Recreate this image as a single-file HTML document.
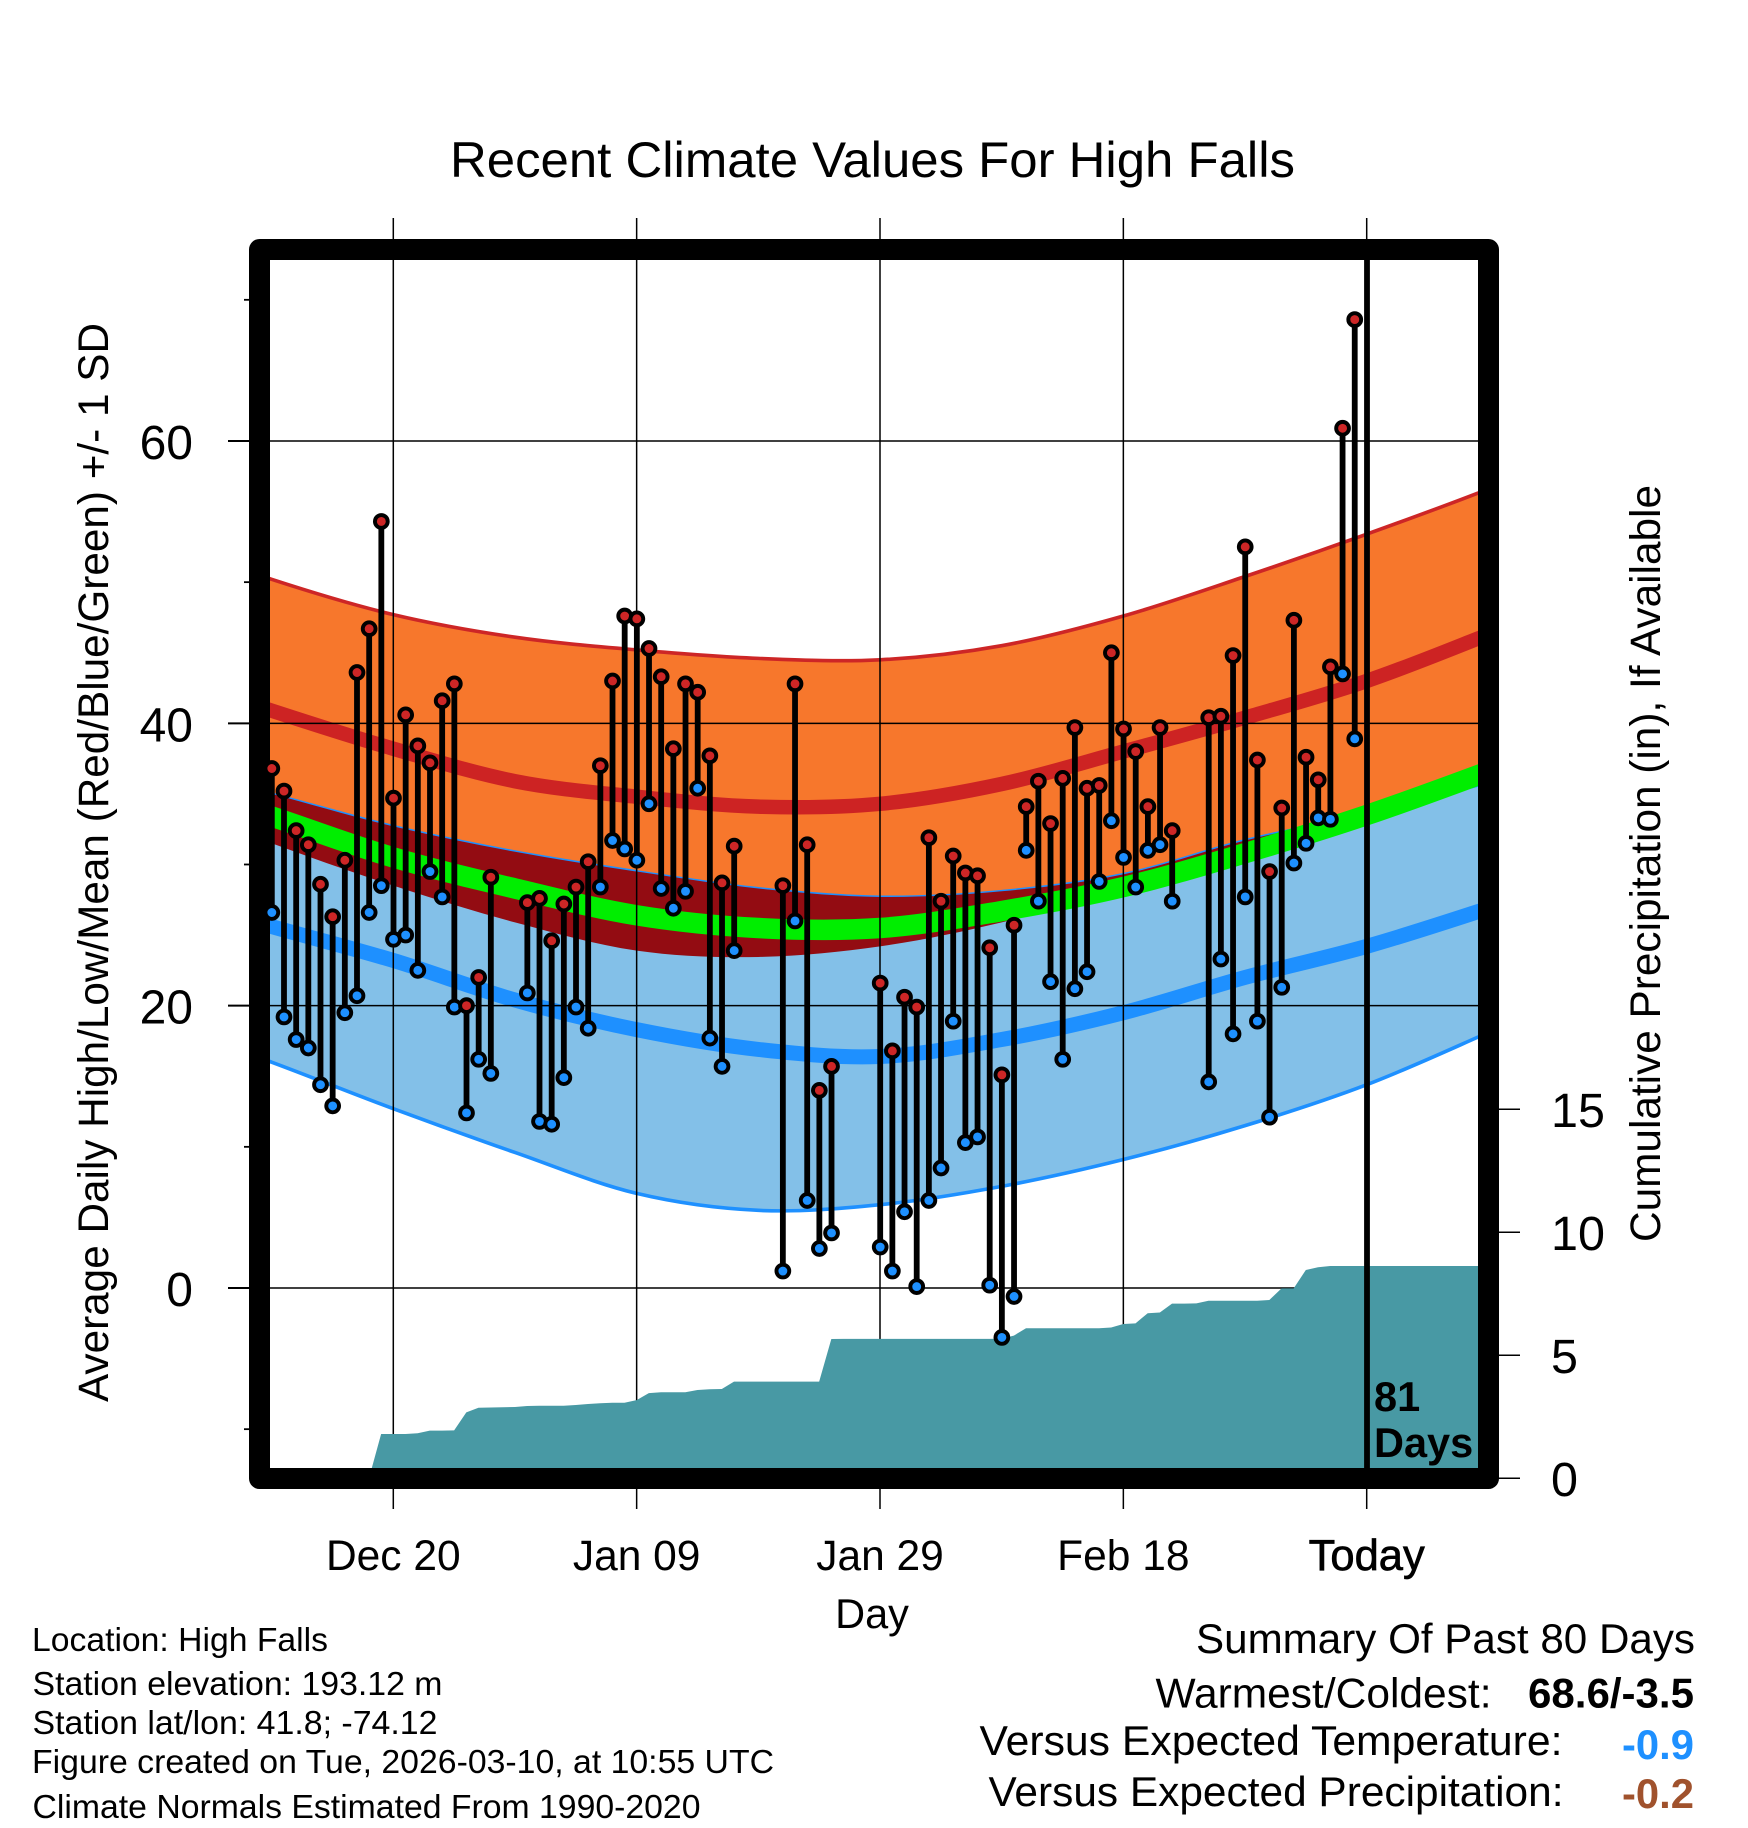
<!DOCTYPE html>
<html lang="en">
<head>
<meta charset="utf-8">
<title>Recent Climate Values For High Falls</title>
<style>
html,body{margin:0;padding:0;background:#fff;}
svg{display:block;}
text{font-family:"Liberation Sans",Arial,sans-serif;fill:#000;}
</style>
</head>
<body>
<svg id="chart" xmlns="http://www.w3.org/2000/svg" width="1748" height="1828" viewBox="0 0 1748 1828">
  <defs>
    <clipPath id="plot-clip"><rect x="270" y="260" width="1208" height="1208"/></clipPath>
    <clipPath id="orange-clip"><path id="orange-clip-path" d=""/></clipPath>
  </defs>
  <rect x="0" y="0" width="1748" height="1828" fill="#ffffff"/>
  <text x="872.5" y="177" font-size="50.5" text-anchor="middle" textLength="845" lengthAdjust="spacingAndGlyphs">Recent Climate Values For High Falls</text>
  <g id="plot" clip-path="url(#plot-clip)"></g>
  <g id="outside-grid"></g>
  <rect x="259.5" y="249.5" width="1229" height="1229" fill="none" stroke="#000" stroke-width="21" stroke-linejoin="round"/>
  <g id="today"></g>
  <g id="marks"></g>
  <g id="tick-labels"></g>
  <text x="1374" y="1411" font-size="41.5" font-weight="bold">81</text>
  <text x="1374" y="1457" font-size="41.5" font-weight="bold">Days</text>
  <text transform="translate(108,862.5) rotate(-90)" font-size="43" text-anchor="middle" textLength="1079" lengthAdjust="spacingAndGlyphs">Average Daily High/Low/Mean (Red/Blue/Green) +/- 1 SD</text>
  <text transform="translate(1660,863.5) rotate(-90)" font-size="43" text-anchor="middle" textLength="757" lengthAdjust="spacingAndGlyphs">Cumulative Precipitation (in), If Available</text>
  <text x="872" y="1628" font-size="41.5" text-anchor="middle">Day</text>
  <g font-size="33.5">
    <text x="32" y="1651" textLength="296" lengthAdjust="spacingAndGlyphs">Location: High Falls</text>
    <text x="32.5" y="1695" textLength="410" lengthAdjust="spacingAndGlyphs">Station elevation: 193.12 m</text>
    <text x="32.5" y="1734" textLength="405" lengthAdjust="spacingAndGlyphs">Station lat/lon: 41.8; -74.12</text>
    <text x="32" y="1773" textLength="742" lengthAdjust="spacingAndGlyphs">Figure created on Tue, 2026-03-10, at 10:55 UTC</text>
    <text x="32.5" y="1818" textLength="668" lengthAdjust="spacingAndGlyphs">Climate Normals Estimated From 1990-2020</text>
  </g>
  <g font-size="42">
    <text x="1196" y="1653" textLength="499" lengthAdjust="spacingAndGlyphs">Summary Of Past 80 Days</text>
    <text x="1155.5" y="1707.5" textLength="336" lengthAdjust="spacingAndGlyphs">Warmest/Coldest:</text>
    <text x="1528" y="1707.5" font-weight="bold" textLength="166" lengthAdjust="spacingAndGlyphs">68.6/-3.5</text>
    <text x="979.5" y="1755" textLength="583" lengthAdjust="spacingAndGlyphs">Versus Expected Temperature:</text>
    <text x="1622" y="1759" font-weight="bold" style="fill:#1e90ff" textLength="72" lengthAdjust="spacingAndGlyphs">-0.9</text>
    <text x="988.5" y="1806" textLength="575" lengthAdjust="spacingAndGlyphs">Versus Expected Precipitation:</text>
    <text x="1622" y="1808" font-weight="bold" style="fill:#a0522d" textLength="72" lengthAdjust="spacingAndGlyphs">-0.2</text>
  </g>
</svg>
<script>
// ---- chart data ----
const highs = [36.8,35.2,32.4,31.4,28.6,26.3,30.3,43.6,46.7,54.3,
  34.7,40.6,38.4,37.2,41.6,42.8,20.0,22.0,29.1,null,
  null,27.3,27.6,24.6,27.2,28.4,30.2,37.0,43.0,47.6,
  47.4,45.3,43.3,38.2,42.8,42.2,37.7,28.7,31.3,null,
  null,null,28.5,42.8,31.4,14.0,15.7,null,null,null,
  21.6,16.8,20.6,19.9,31.9,27.4,30.6,29.4,29.2,24.1,
  15.1,25.7,34.1,35.9,32.9,36.1,39.7,35.4,35.6,45.0,
  39.6,38.0,34.1,39.7,32.4,null,null,40.4,40.5,44.8,
  52.5,37.4,29.5,34.0,47.3,37.6,36.0,44.0,60.9,68.6];
const lows = [26.6,19.2,17.6,17.0,14.4,12.9,19.5,20.7,26.6,28.5,
  24.7,25.0,22.5,29.5,27.7,19.9,12.4,16.2,15.2,null,
  null,20.9,11.8,11.6,14.9,19.9,18.4,28.4,31.7,31.1,
  30.3,34.3,28.3,26.9,28.1,35.4,17.7,15.7,23.9,null,
  null,null,1.2,26.0,6.2,2.8,3.9,null,null,null,
  2.9,1.2,5.4,0.1,6.2,8.5,18.9,10.3,10.7,0.2,
  -3.5,-0.6,31.0,27.4,21.7,16.2,21.2,22.4,28.8,33.1,
  30.5,28.4,31.0,31.4,27.4,null,null,14.6,23.3,18.0,
  27.7,18.9,12.1,21.3,30.1,31.5,33.3,33.2,43.5,38.9];
const normalDays = [-10,0,10,20,30,40,50,60,70,80,90,100,110];
const highPlusSd  = [53.3,50.2,47.7,46.1,45.2,44.6,44.5,45.5,47.6,50.4,53.4,56.6,60.2];
const highNormal  = [43.8,40.9,38.2,35.9,34.8,34.1,34.3,35.7,38.0,40.4,43.0,46.3,49.8];
const highMinusSd = [34.8,31.5,28.5,25.9,23.9,23.45,24.2,25.9,28.3,30.9,33.5,36.6,39.9];
const lowPlusSd   = [37.2,35.0,32.7,30.9,29.5,28.3,27.7,28.1,29.3,31.7,33.6,35.8,38.2];
const lowNormal   = [28.1,25.6,23.2,20.4,18.3,16.9,16.4,17.6,19.5,22.0,24.2,26.9,29.8];
const lowMinusSd  = [19.1,16.0,12.7,9.6,6.7,5.5,5.9,7.2,9.1,11.5,14.4,18.1,22.0];
const meanNormal  = [36.2,33.4,30.5,28.3,26.4,25.5,25.5,26.7,28.4,30.8,33.5,36.6,39.9];
const precip = [0,0,0,0,0,0,0,0,0,1.80,
  1.80,1.80,1.83,1.94,1.94,1.95,2.68,2.87,2.88,2.89,
  2.90,2.94,2.95,2.95,2.95,2.98,3.02,3.05,3.07,3.07,
  3.18,3.46,3.50,3.50,3.50,3.59,3.62,3.63,3.93,3.93,
  3.93,3.93,3.93,3.93,3.93,3.93,5.66,5.67,5.67,5.67,
  5.67,5.67,5.67,5.67,5.67,5.67,5.67,5.67,5.67,5.67,
  5.68,5.80,6.10,6.10,6.10,6.10,6.10,6.10,6.10,6.13,
  6.27,6.30,6.71,6.74,7.10,7.10,7.11,7.22,7.22,7.22,
  7.22,7.22,7.25,7.72,7.72,8.47,8.58,8.63,8.63,8.63,
  8.63,8.63,8.63,8.63,8.63,8.63,8.63,8.63,8.63,8.63,8.63];
const xTickDays = [10,30,50,70,90];
const xTickLabels = ["Dec 20","Jan 09","Jan 29","Feb 18","Today"];
const yMajorTicks = [0,20,40,60];
const yMinorTicks = [-10,10,30,50,70];
const precipTicks = [0,5,10,15];
const todayDay = 90;

// ---- axis functions ----
function xAxis(d){ return 393.3 + (d - 10) * 12.1675; }
function yAxis(v){ return 1288 - 14.117 * v; }
function precipAxis(v){ return 1478.3 - 24.6 * v; }

const NS = 'http://www.w3.org/2000/svg';
function mk(tag, parent, props){
  const el = document.createElementNS(NS, tag);
  for (const k in props) el.setAttribute(k, props[k]);
  parent.appendChild(el);
  return el;
}
function curveSegs(pts){
  let d = '';
  for (let i = 0; i < pts.length - 1; i++){
    const p0 = pts[Math.max(i-1,0)], p1 = pts[i], p2 = pts[i+1], p3 = pts[Math.min(i+2,pts.length-1)];
    const c1x = p1[0] + (p2[0]-p0[0])/6, c1y = p1[1] + (p2[1]-p0[1])/6;
    const c2x = p2[0] - (p3[0]-p1[0])/6, c2y = p2[1] - (p3[1]-p1[1])/6;
    d += 'C' + c1x.toFixed(2) + ' ' + c1y.toFixed(2) + ' ' + c2x.toFixed(2) + ' ' + c2y.toFixed(2) + ' ' + p2[0].toFixed(2) + ' ' + p2[1].toFixed(2);
  }
  return d;
}
function pts(values){ return values.map(function(v,i){ return [xAxis(normalDays[i]), yAxis(v)]; }); }
function linePath(values){
  const p = pts(values);
  return 'M' + p[0][0].toFixed(2) + ' ' + p[0][1].toFixed(2) + curveSegs(p);
}
function bandPath(upper, lower){
  const a = pts(upper), b = pts(lower).reverse();
  return 'M' + a[0][0].toFixed(2) + ' ' + a[0][1].toFixed(2) + curveSegs(a) +
         'L' + b[0][0].toFixed(2) + ' ' + b[0][1].toFixed(2) + curveSegs(b) + 'Z';
}

const plot = document.getElementById('plot');
const outside = document.getElementById('outside-grid');
const todayG = document.getElementById('today');
const marks = document.getElementById('marks');
const labels = document.getElementById('tick-labels');

// bands
const orangeD = bandPath(highPlusSd, highMinusSd);
document.getElementById('orange-clip-path').setAttribute('d', orangeD);
const orange = mk('path', plot, {d: orangeD, fill: '#f7772c'});


const skyBand = mk('path', plot, {d: bandPath(lowPlusSd, lowMinusSd), fill: '#83c0e8'});


const lowUpperLine = mk('path', plot, {d: linePath(lowPlusSd), fill: 'none', stroke: '#1e90ff', 'stroke-width': 3});


const overlap = mk('path', plot, {d: bandPath(lowPlusSd, lowMinusSd), fill: '#930c12', 'clip-path': 'url(#orange-clip)'});


const upperLine = mk('path', plot, {d: linePath(highPlusSd), fill: 'none', stroke: '#cd2626', 'stroke-width': 3.6});


const lowerLine = mk('path', plot, {d: linePath(lowMinusSd), fill: 'none', stroke: '#1e90ff', 'stroke-width': 3.6});


const highLine = mk('path', plot, {d: linePath(highNormal), fill: 'none', stroke: '#cd2323', 'stroke-width': 14.5});


const lowLine = mk('path', plot, {d: linePath(lowNormal), fill: 'none', stroke: '#1e90ff', 'stroke-width': 15});


const meanLine = mk('path', plot, {d: linePath(meanNormal), fill: 'none', stroke: '#00ee00', 'stroke-width': 20.5});



// grid inside the plot
yMajorTicks.forEach(function(v){
  const g = mk('line', plot, {x1: 270, x2: 1478, y1: yAxis(v), y2: yAxis(v), stroke: '#000', 'stroke-width': 1.5});
  
  
});
xTickDays.forEach(function(d){
  const g = mk('line', plot, {x1: xAxis(d), x2: xAxis(d), y1: 260, y2: 1468, stroke: '#000', 'stroke-width': 1.5});
  
  
});

// cumulative precipitation
let precipD = 'M' + xAxis(0).toFixed(2) + ' ' + precipAxis(0).toFixed(2);
precip.forEach(function(v,i){ precipD += 'L' + xAxis(i).toFixed(2) + ' ' + precipAxis(v).toFixed(2); });
precipD += 'L' + xAxis(precip.length-1).toFixed(2) + ' ' + precipAxis(0).toFixed(2) + 'Z';
const precipArea = mk('path', plot, {d: precipD, fill: '#4899a4'});



// outer ticks
xTickDays.forEach(function(d,i){
  const t1 = mk('line', outside, {x1: xAxis(d), x2: xAxis(d), y1: 218, y2: 240, stroke: '#000', 'stroke-width': 1.5});
  
  
  const t2 = mk('line', outside, {x1: xAxis(d), x2: xAxis(d), y1: 1488, y2: 1509, stroke: '#000', 'stroke-width': 1.5});
  
  
  const isToday = d === todayDay;
  const lab = mk('text', labels, {x: xAxis(d), y: 1570, 'font-size': isToday ? 43.5 : 42.5, 'text-anchor': 'middle'});
  
  
  if (isToday) { lab.setAttribute('stroke', '#000'); lab.setAttribute('stroke-width', '0.7'); }
  lab.textContent = xTickLabels[i];
});
yMajorTicks.forEach(function(v){
  const t = mk('line', outside, {x1: 228, x2: 250, y1: yAxis(v), y2: yAxis(v), stroke: '#000', 'stroke-width': 2});
  
  
  const lab = mk('text', labels, {x: 193, y: yAxis(v) + 18, 'font-size': 48, 'text-anchor': 'end'});
  
  
  lab.textContent = String(v);
});
yMinorTicks.forEach(function(v){
  const t = mk('line', outside, {x1: 244, x2: 250, y1: yAxis(v), y2: yAxis(v), stroke: '#000', 'stroke-width': 1.8});
  
  
});
precipTicks.forEach(function(v){
  const t = mk('line', outside, {x1: 1498, x2: 1520, y1: precipAxis(v), y2: precipAxis(v), stroke: '#000', 'stroke-width': 1.5});
  
  
  const lab = mk('text', labels, {x: 1551, y: precipAxis(v) + 17.5, 'font-size': 48.5});
  
  
  lab.textContent = String(v);
});

// today marker
const todayLine = mk('line', todayG, {x1: xAxis(todayDay) + 0.3, x2: xAxis(todayDay) + 0.3, y1: 255, y2: 1470, stroke: '#000', 'stroke-width': 5.8});



// daily stems and markers
highs.forEach(function(h,i){
  const l = lows[i];
  if (h === null || l === null) return;
  const x = xAxis(i) + 0.2;
  const stem = mk('line', marks, {x1: x, x2: x, y1: yAxis(h), y2: yAxis(l), stroke: '#000', 'stroke-width': 5.8});
  
  
  const lowDot = mk('circle', marks, {cx: x, cy: yAxis(l), r: 6.4, fill: '#1e90ff', stroke: '#000', 'stroke-width': 3.9});
  
  
  const highDot = mk('circle', marks, {cx: x, cy: yAxis(h), r: 6.4, fill: '#cd2626', stroke: '#000', 'stroke-width': 3.9});
  
  
});
</script>
</body>
</html>
